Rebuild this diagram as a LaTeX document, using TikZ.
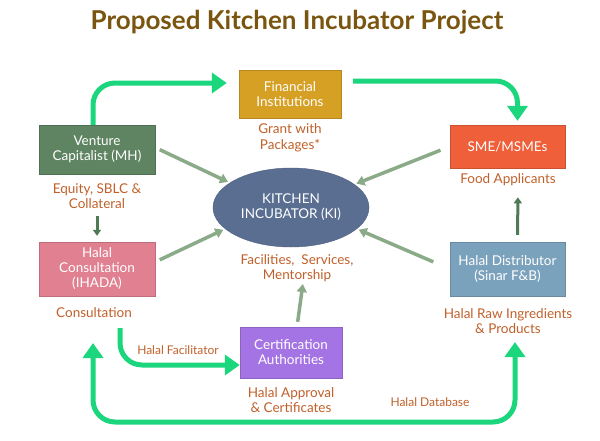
\documentclass[tikz,border=0pt]{standalone}
\usepackage{fontspec}
\setmainfont{Lato}
\usetikzlibrary{arrows.meta,shapes.geometric,calc}
\definecolor{titlec}{HTML}{7A5510}
\definecolor{lblc}{HTML}{C0602A}
\definecolor{bgreen}{HTML}{1CD67E}
\definecolor{garrow}{HTML}{8AAA88}
\definecolor{dgreen}{HTML}{4E7A55}
\definecolor{fic}{HTML}{D6A024}
\definecolor{vcc}{HTML}{5F8462}
\definecolor{hcc}{HTML}{E08090}
\definecolor{certc}{HTML}{A574E4}
\definecolor{smec}{HTML}{EE5F3A}
\definecolor{distc}{HTML}{7BA2BC}
\definecolor{kic}{HTML}{5A6E92}
\tikzset{
  box/.style={rectangle, draw=#1!85!black, fill=#1, text=white, inner sep=0pt, align=center,
    font=\fontsize{13.5}{15}\selectfont},
  lbl/.style={text=lblc, align=center, inner sep=1pt, font=\fontsize{13.5}{15.5}\selectfont},
  slbl/.style={text=lblc, inner sep=1pt, font=\fontsize{12}{13}\selectfont},
  bigarrow/.style={draw=bgreen, line width=5pt, rounded corners=22pt,
    -{Triangle[width=20pt,length=15pt]}},
  grayarrow/.style={draw=garrow, line width=3.5pt, -{Triangle[width=10pt,length=8pt]}},
  darrow/.style={draw=dgreen, line width=3pt, -{Triangle[width=8pt,length=6pt]}},
}
\begin{document}
\begin{tikzpicture}[x=1pt,y=-1pt]
\useasboundingbox (0,0) rectangle (600,440);
\node[text=titlec, font=\fontsize{26}{29}\selectfont\bfseries] (title) at (297,22) {Proposed Kitchen Incubator Project};

\node[box=fic, minimum width=102pt, minimum height=48pt] (fi) at (290,94) {Financial\\Institutions};
\node[lbl] (filbl) at (290,138) {Grant with\\Packages*};

\node[box=vcc, minimum width=116pt, minimum height=49pt] (vc) at (97,149.5) {Venture\\Capitalist (MH)};
\node[lbl] (eqlbl) at (97,196) {Equity, SBLC \&\\Collateral};

\node[box=hcc, minimum width=116pt, minimum height=54pt] (hc) at (97,269) {Halal\\Consultation\\(IHADA)};
\node[lbl] (conslbl) at (94,313) {Consultation};

\node[box=certc, minimum width=102pt, minimum height=51pt] (cert) at (291,352.5) {Certification\\Authorities};
\node[lbl] (certlbl) at (291,400) {Halal Approval\\\& Certificates};

\node[box=smec, minimum width=115pt, minimum height=43pt] (sme) at (507.5,146.5) {SME/MSMEs};
\node[lbl] (foodlbl) at (508,180) {Food Applicants};

\node[box=distc, minimum width=115pt, minimum height=54pt] (dist) at (507.5,269) {Halal Distributor\\(Sinar F\&B)};
\node[lbl] (rawlbl) at (508,321) {Halal Raw Ingredients\\\& Products};

\node[ellipse, draw=kic!85!black, fill=kic, text=white, minimum width=156pt, minimum height=79pt,
  inner sep=0pt, align=center, font=\fontsize{13.5}{15}\selectfont] (ki) at (291,207.5) {KITCHEN\\INCUBATOR (KI)};
\node[lbl] (kilbl) at (297,268) {Facilities,~ Services,\\Mentorship};

\node[slbl] (facil) at (178,350) {Halal Facilitator};
\node[slbl] (hdb) at (430,402) {Halal Database};

% bright green arrows
\draw[bigarrow, shorten >=12pt] ([xshift=-4pt]vc.north) |- ([yshift=11pt]fi.west);
\coordinate (c1) at (120,328);
\draw[bigarrow] (c1) |- ([yshift=-12.5pt]cert.west);
\coordinate (a1) at (93,343);
\coordinate (a2) at (515,342);
\coordinate (bot) at (0,422);
\draw[bigarrow, {Triangle[width=20pt,length=15pt]}-{Triangle[width=20pt,length=15pt]}] (a1) -- (a1 |- bot) -| (a2);
\draw[bigarrow, shorten <=12pt, shorten >=4pt] ([yshift=13pt]fi.east) -| ([xshift=10pt]sme.north);

% gray arrows
\draw[grayarrow, shorten <=5pt, shorten >=2pt] ([yshift=2pt]vc.east) -- (ki.158);
\draw[grayarrow, shorten <=5pt, shorten >=2pt] ([yshift=7pt]hc.east) -- (ki.198);
\draw[grayarrow, shorten <=10pt, shorten >=2pt] (sme.west) -- (ki.20);
\draw[grayarrow, shorten <=18pt, shorten >=2pt] (dist.west) -- (ki.-18);
\draw[grayarrow, shorten <=5pt, shorten >=1pt] ([xshift=6pt]cert.north) -- ([xshift=6pt]kilbl.south);

% dark green arrows
\draw[darrow, shorten <=6pt, shorten >=6pt] (eqlbl.south) -- (hc.north);
\draw[darrow, shorten <=7pt, shorten >=10pt] ([xshift=10pt]dist.north) -- ([xshift=10pt]foodlbl.south);
\end{tikzpicture}
\end{document}
